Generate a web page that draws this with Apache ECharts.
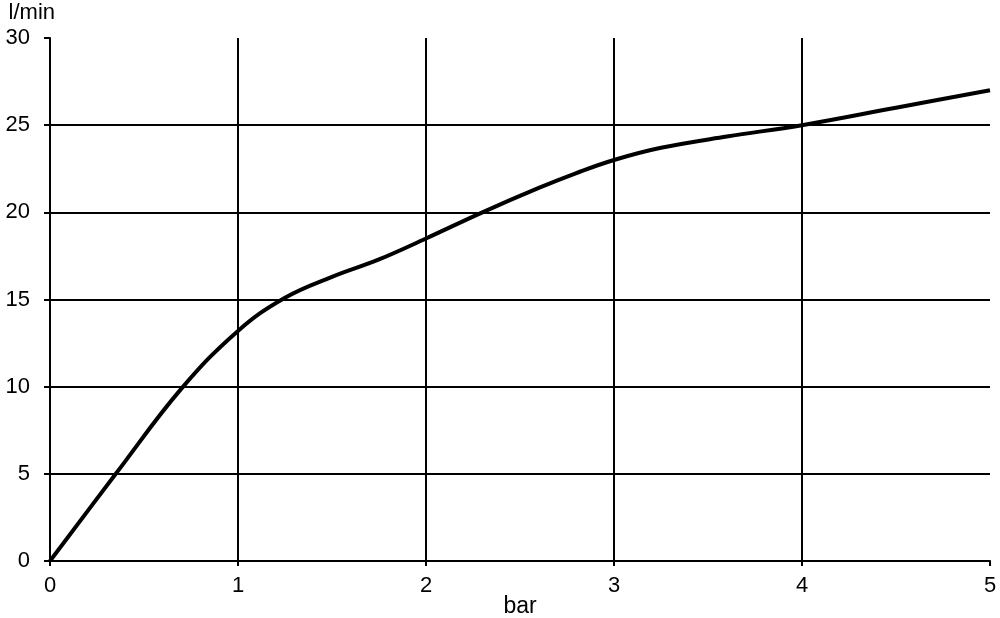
<!DOCTYPE html>
<html><head><meta charset="utf-8">
<script src="https://cdn.jsdelivr.net/npm/echarts@6/dist/echarts.min.js"></script>
<style>html,body{margin:0;padding:0;background:#fff}#c{width:1000px;height:618px}</style>
</head><body><div id="c"></div>
<script>
const xValues = [0, 0.35, 0.7, 1, 1.25, 1.5, 1.75, 2, 2.3, 2.6, 2.8, 3, 3.25, 3.6, 4, 4.5, 5];
const yValues = [0, 5, 9.9, 13.2, 15.1, 16.3, 17.3, 18.5, 20, 21.4, 22.25, 23, 23.7, 24.35, 25, 26, 27];
const xAxisName = 'bar';
const yAxisName = 'l/min';

const chart = echarts.init(document.getElementById('c'));
const font = 'Liberation Sans, Arial, sans-serif';
chart.setOption({
  animation: false,
  grid: { left: 50, right: 10, top: 38, bottom: 57, containLabel: false, outerBoundsMode: 'none' },
  xAxis: {
    type: 'value', min: 0, max: 5, interval: 1,
    name: xAxisName, nameLocation: 'middle', nameGap: 34, nameMoveOverlap: false,
    nameTextStyle: { color: '#000', fontSize: 23, fontFamily: font },
    axisLine: { show: true, onZero: false, lineStyle: { color: '#000', width: 2 } },
    axisTick: { show: true, length: 5, inside: false, lineStyle: { color: '#000', width: 2 } },
    axisLabel: { color: '#000', fontSize: 22, fontFamily: font, margin: 14 },
    splitLine: { show: true, showMinLine: false, showMaxLine: false, lineStyle: { color: '#000', width: 2 } }
  },
  yAxis: {
    type: 'value', min: 0, max: 30, interval: 5,
    name: yAxisName, nameLocation: 'end', nameGap: 14, nameMoveOverlap: false,
    nameTextStyle: { color: '#000', fontSize: 22, fontFamily: font, align: 'right', padding: [0, -5, 0, 0] },
    axisLine: { show: true, lineStyle: { color: '#000', width: 2 } },
    axisTick: { show: true, length: 6, lineStyle: { color: '#000', width: 2 } },
    axisLabel: { color: '#000', fontSize: 22, fontFamily: font, margin: 20 },
    splitLine: { show: true, showMinLine: false, showMaxLine: false, lineStyle: { color: '#000', width: 2 } }
  },
  series: [{
    type: 'line',
    data: xValues.map((x, i) => [x, yValues[i]]),
    smooth: 0.4,
    showSymbol: false,
    lineStyle: { color: '#000', width: 4 }
  }]
});
</script></body></html>
